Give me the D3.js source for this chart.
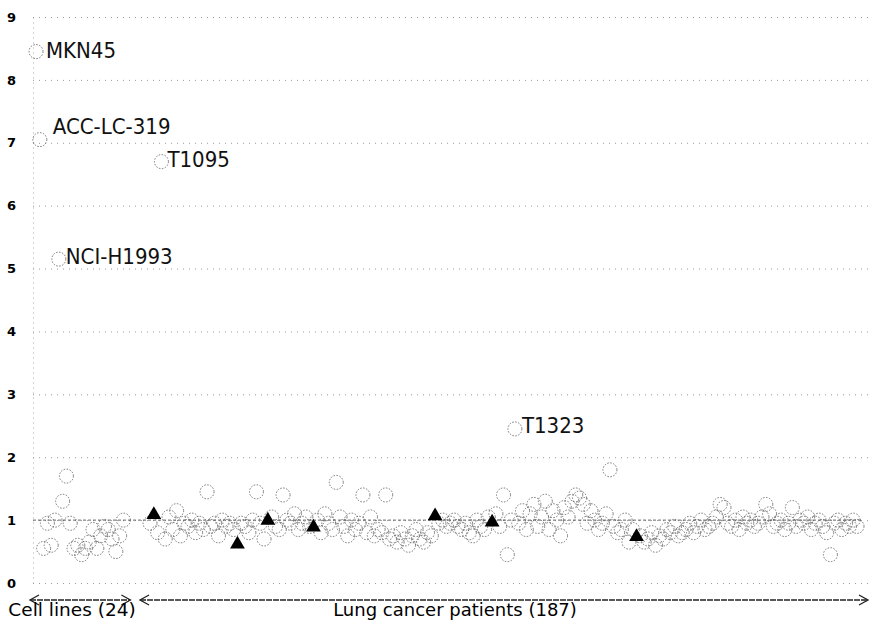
<!DOCTYPE html>
<html>
<head>
<meta charset="utf-8">
<script src="https://cdn.jsdelivr.net/npm/d3@7"></script>
<style>
  body { margin: 0; background: #fff; }
  text { font-family: "DejaVu Sans", Verdana, sans-serif; }
</style>
</head>
<body>
<div id="chart"></div>
<script>
// cell line values (24)
const cellLines = [8.45, 7.05, 0.55, 0.95, 0.60, 1.00, 5.15, 1.30, 1.70, 0.95,
  0.55, 0.60, 0.45, 0.55, 0.65, 0.85, 0.55, 0.75, 0.90, 0.85,
  0.70, 0.50, 0.75, 1.00];

// lung cancer patient values (187)
const patients = [
  0.95, 1.07, 0.80, 6.70, 0.70, 1.05, 0.85, 1.15, 0.75, 0.95,
  0.90, 1.00, 0.80, 0.95, 0.85, 1.45, 0.90, 0.95, 0.75, 1.00,
  0.90, 0.95, 0.85, 0.60, 0.95, 0.90, 0.80, 1.00, 1.45, 0.95,
  0.70, 0.98, 1.05, 0.90, 0.85, 1.40, 1.00, 0.95, 1.10, 0.85,
  0.95, 1.05, 0.90, 0.87, 1.00, 0.80, 1.10, 0.95, 0.85, 1.60,
  1.05, 0.90, 0.75, 1.00, 0.85, 0.95, 1.40, 0.80, 1.05, 0.75,
  0.85, 0.80, 1.40, 0.70, 0.75, 0.65, 0.80, 0.70, 0.60, 0.75,
  0.85, 0.70, 0.65, 0.80, 0.75, 1.05, 0.95, 1.00, 0.90, 0.95,
  1.00, 0.90, 0.85, 0.95, 0.80, 0.75, 1.00, 0.90, 0.85, 1.05,
  0.95, 1.10, 0.90, 1.40, 0.45, 1.00, 2.45, 0.95, 1.15, 0.85,
  1.10, 1.25, 0.90, 1.05, 1.30, 0.85, 1.15, 1.00, 0.75, 1.20,
  1.05, 1.30, 1.40, 1.35, 1.25, 0.95, 1.15, 1.00, 0.85, 0.95,
  1.10, 1.80, 0.90, 0.80, 0.85, 1.00, 0.65, 0.85, 0.72, 0.75,
  0.65, 0.70, 0.80, 0.60, 0.75, 0.70, 0.85, 0.80, 0.90, 0.75,
  0.80, 0.85, 0.95, 0.80, 0.90, 1.00, 0.85, 0.90, 0.95, 1.05,
  1.25, 1.20, 0.95, 0.90, 1.00, 0.85, 1.05, 0.95, 1.00, 0.90,
  0.95, 1.05, 1.25, 1.10, 0.90, 0.95, 1.00, 0.85, 0.95, 1.20,
  0.90, 1.00, 0.95, 1.05, 0.85, 0.95, 1.00, 0.90, 0.80, 0.45,
  0.95, 1.00, 0.85, 0.95, 0.90, 1.00, 0.90
];

// patients drawn as filled triangles (index into patients)
const trianglePatients = [1, 23, 31, 43, 75, 90, 128];

// labelled samples
const labelNames = ["MKN45", "ACC-LC-319", "T1095", "NCI-H1993", "T1323"];
const labelGroups = ["cell", "cell", "patient", "cell", "patient"];
const labelIndex = [0, 1, 3, 6, 96];

const yTicks = [0, 1, 2, 3, 4, 5, 6, 7, 8, 9];
const groupNames = ["Cell lines (24)", "Lung cancer patients (187)"];

const width = 875, height = 623;
const gap = 6; // empty slots between the two groups

const svg = d3.select("#chart").append("svg")
  .attr("width", width)
  .attr("height", height);

const x = d3.scaleLinear()
  .domain([0, cellLines.length + gap + patients.length - 1])
  .range([36, 857]);

const y = d3.scaleLinear()
  .domain([0, 9])
  .range([583, 17]);

const xCell = i => x(i);
const xPat = j => x(cellLines.length + gap + j);

// grid + axis
const yAxis = d3.axisLeft(y)
  .tickValues(yTicks)
  .tickSizeInner(-(870 - 33))
  .tickSizeOuter(0)
  .tickPadding(17);

const gAxis = svg.append("g")
  .attr("transform", "translate(33,0)")
  .call(yAxis);

gAxis.select(".domain")
  .attr("stroke", "#aaa")
  .attr("stroke-dasharray", "1,4");

gAxis.selectAll(".tick line")
  .attr("stroke", "#999")
  .attr("stroke-dasharray", "1,5");

gAxis.selectAll(".tick text")
  .attr("fill", "#000")
  .style("font-size", "13px")
  .style("font-weight", "bold");

// reference line at 1
svg.append("line")
  .attr("x1", 33).attr("x2", 862)
  .attr("y1", y(1)).attr("y2", y(1))
  .attr("stroke", "#666")
  .attr("stroke-dasharray", "3,2");

// circles
const circleStyle = sel => sel
  .attr("r", 7)
  .attr("fill", "none")
  .attr("stroke", "#666")
  .attr("stroke-width", 0.9)
  .attr("stroke-dasharray", "1.5,1.5");

svg.append("g").selectAll("circle")
  .data(cellLines)
  .join("circle")
  .attr("cx", (d, i) => xCell(i))
  .attr("cy", d => y(d))
  .call(circleStyle);

const patData = patients.map((v, j) => ({v: v, j: j, tri: trianglePatients.includes(j)}));

svg.append("g").selectAll("circle")
  .data(patData.filter(d => !d.tri))
  .join("circle")
  .attr("cx", d => xPat(d.j))
  .attr("cy", d => y(d.v))
  .call(circleStyle);

const tri = d3.symbol().type(d3.symbolTriangle).size(95);
svg.append("g").selectAll("path")
  .data(patData.filter(d => d.tri))
  .join("path")
  .attr("d", tri)
  .attr("transform", d => `translate(${xPat(d.j)},${y(d.v) - 1})`)
  .attr("fill", "#000");

// sample labels
const labelOffsets = [[10, 6], [13, -6], [6, 5], [7, 5], [7, 4]];
labelNames.forEach((name, k) => {
  const i = labelIndex[k];
  const px = labelGroups[k] === "cell" ? xCell(i) : xPat(i);
  const val = labelGroups[k] === "cell" ? cellLines[i] : patients[i];
  svg.append("text")
    .attr("x", px + labelOffsets[k][0])
    .attr("y", y(val) + labelOffsets[k][1])
    .style("font-family", "'DejaVu Sans Condensed', 'DejaVu Sans', sans-serif")
    .style("font-size", "22px")
    .attr("fill", "#111")
    .text(name);
});

// group arrows
function arrow(x1, x2, yy) {
  const g = svg.append("g").attr("stroke", "#222").attr("fill", "none").attr("stroke-width", 1.3);
  g.append("line").attr("x1", x1).attr("x2", x2).attr("y1", yy).attr("y2", yy)
    .attr("stroke-dasharray", "6,1");
  g.append("polyline").attr("points", `${x1 + 9},${yy - 5} ${x1},${yy} ${x1 + 9},${yy + 5}`);
  g.append("polyline").attr("points", `${x2 - 9},${yy - 5} ${x2},${yy} ${x2 - 9},${yy + 5}`);
}
arrow(xCell(0) - 6, xCell(cellLines.length - 1) + 7, 600);
arrow(xPat(0) - 10, xPat(patients.length - 1) + 11, 600);

svg.append("text")
  .attr("x", 72).attr("y", 616)
  .attr("text-anchor", "middle")
  .style("font-size", "18.5px")
  .text(groupNames[0]);

svg.append("text")
  .attr("x", 455).attr("y", 616)
  .attr("text-anchor", "middle")
  .style("font-size", "18px")
  .text(groupNames[1]);
</script>
</body>
</html>
